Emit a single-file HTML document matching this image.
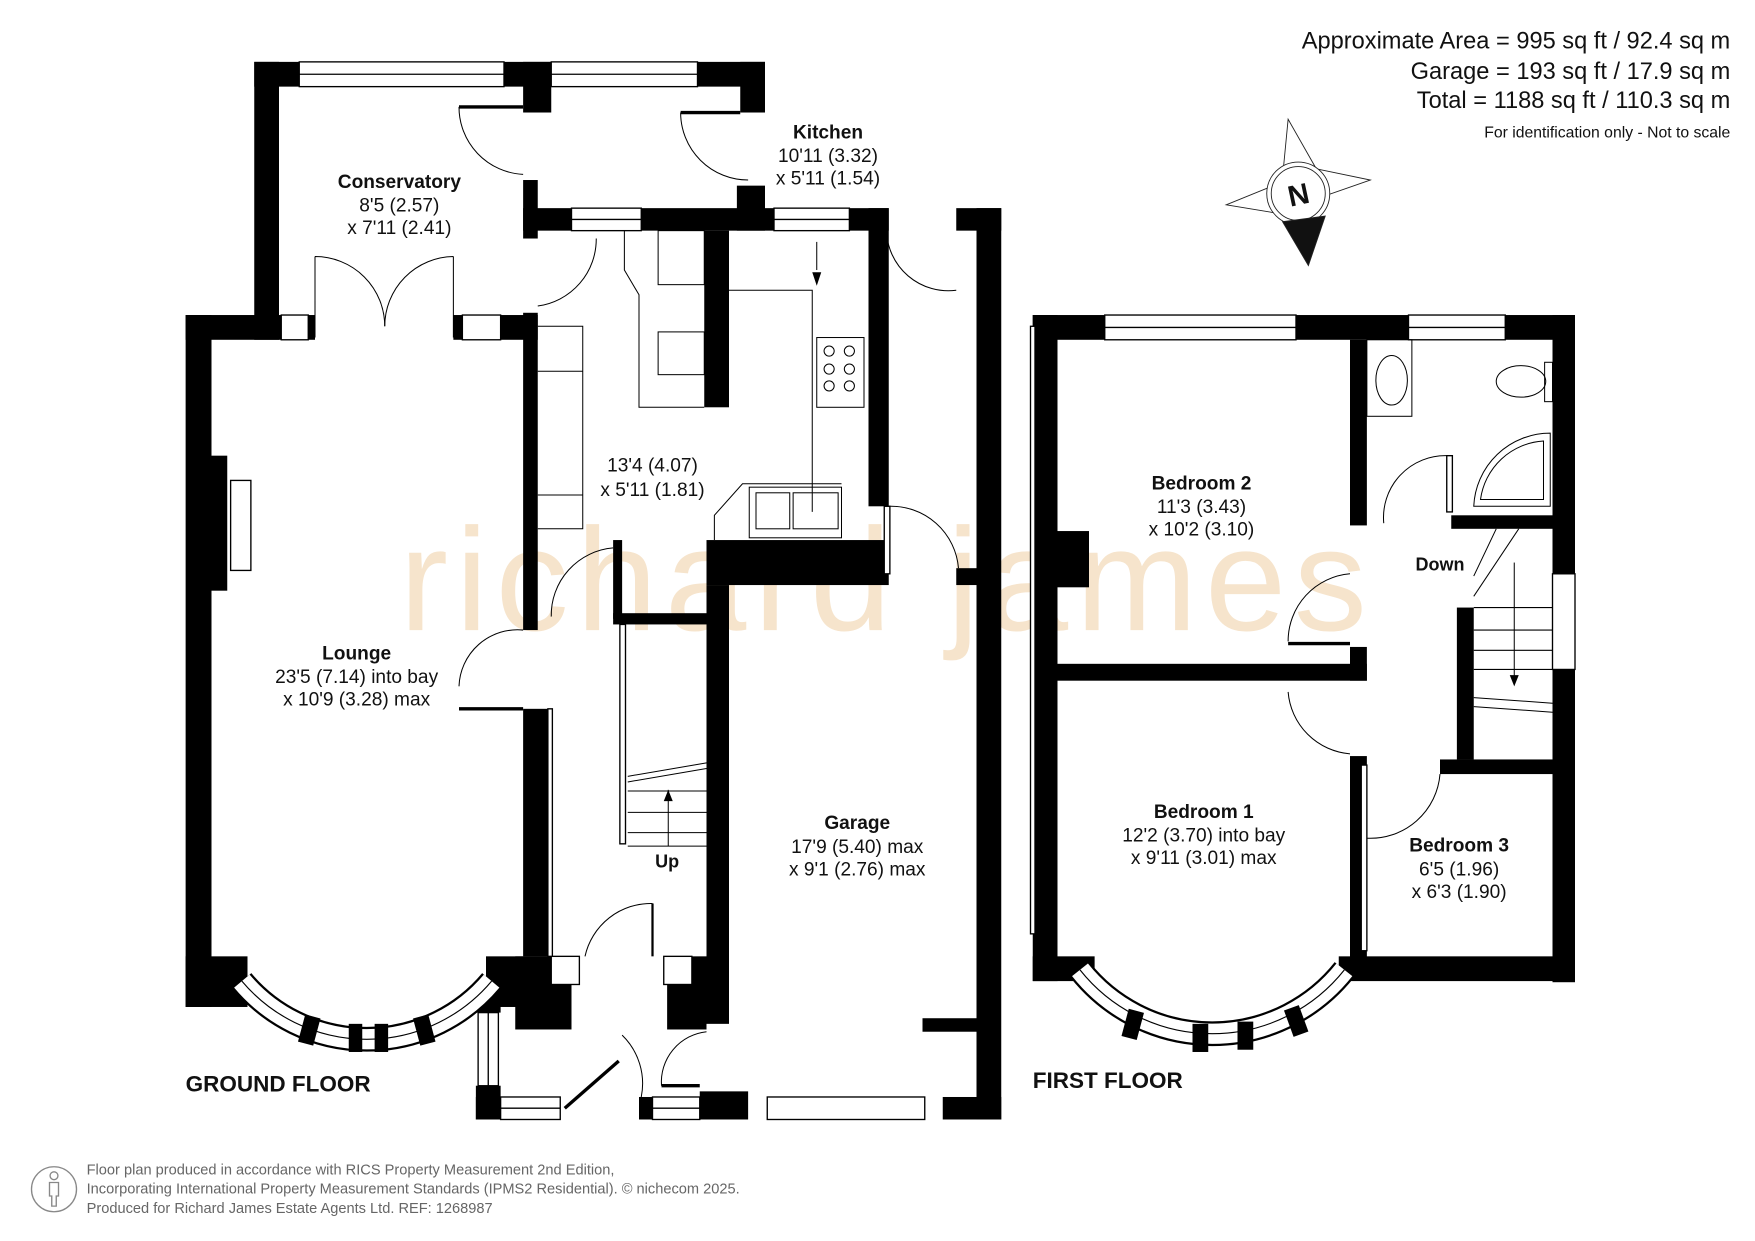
<!DOCTYPE html>
<html><head><meta charset="utf-8"><style>
html,body{margin:0;padding:0;background:#fff;}
svg{display:block;}
text{font-family:"Liberation Sans",Arial,sans-serif;fill:#111;}
.b{font-weight:bold;}
</style></head><body>
<svg width="1755" height="1241" viewBox="0 0 1560 1103" preserveAspectRatio="none" xmlns="http://www.w3.org/2000/svg">
<rect width="1560" height="1103" fill="#fff"/>
<!-- watermark -->
<text x="355" y="560" font-size="130" style="fill:#f6e4cc" textLength="860">richard james</text>

<!-- header -->
<g font-size="21" text-anchor="end">
<text x="1538" y="43">Approximate Area = 995 sq ft / 92.4 sq m</text>
<text x="1538" y="70">Garage = 193 sq ft / 17.9 sq m</text>
<text x="1538" y="96">Total = 1188 sq ft / 110.3 sq m</text>
<text x="1538" y="122" font-size="14">For identification only - Not to scale</text>
</g>
<!-- compass -->
<g stroke="#222" stroke-width="0.8" fill="#fff">
<polygon points="1145,106 1170,150 1140,158"/>
<polygon points="1218,160 1175,175 1170,150"/>
<polygon points="1090,182 1132,165 1138,190"/>
<circle cx="1154" cy="172" r="28"/>
<circle cx="1154" cy="172" r="24"/>
<polygon points="1140,197 1178,192 1163,236" fill="#111"/>
</g>
<text x="1154" y="182" font-size="26" class="b" text-anchor="middle" transform="rotate(-12 1154 172)">N</text>

<g fill="#000">
<!-- ===== GROUND FLOOR ===== -->
<rect x="165" y="280" width="23" height="615"/>
<rect x="165" y="280" width="85" height="22"/>
<rect x="274" y="280" width="6" height="22"/>
<rect x="403" y="280" width="8" height="22"/>
<rect x="445" y="280" width="33" height="22"/>
<rect x="165" y="850" width="55" height="45"/>
<rect x="432" y="850" width="58" height="45"/>
<rect x="188" y="405" width="14" height="120"/>
<rect x="226" y="55" width="22" height="247"/>
<rect x="226" y="55" width="40" height="22"/>
<rect x="448" y="55" width="42" height="22"/>
<rect x="465" y="55" width="25" height="45"/>
<rect x="620" y="55" width="60" height="22"/>
<rect x="658" y="55" width="22" height="45"/>
<rect x="465" y="160" width="13" height="52"/>
<rect x="655" y="165" width="25" height="40"/>
<rect x="465" y="185" width="43" height="20"/>
<rect x="570" y="185" width="118" height="20"/>
<rect x="755" y="185" width="35" height="20"/>
<rect x="772" y="185" width="18" height="265"/>
<rect x="626" y="205" width="22" height="157"/>
<rect x="628" y="480" width="162" height="40"/>
<rect x="465" y="278" width="13" height="282"/>
<rect x="545" y="480" width="8" height="70"/>
<rect x="545" y="545" width="85" height="10"/>
<rect x="465" y="630" width="25" height="220"/>
<rect x="628" y="520" width="20" height="390"/>
<rect x="458" y="850" width="32" height="25"/>
<rect x="458" y="870" width="50" height="45"/>
<rect x="593" y="870" width="35" height="45"/>
<rect x="615" y="850" width="15" height="25"/>
<rect x="423" y="875" width="22" height="25"/>
<rect x="423" y="965" width="22" height="30"/>
<rect x="423" y="975" width="75" height="20"/>
<rect x="568" y="975" width="12" height="20"/>
<rect x="622" y="970" width="43" height="25"/>
<rect x="850" y="185" width="40" height="20"/>
<rect x="868" y="185" width="22" height="810"/>
<rect x="850" y="505" width="20" height="15"/>
<rect x="820" y="905" width="50" height="12"/>
<rect x="838" y="975" width="52" height="20"/>

<!-- ===== FIRST FLOOR ===== -->
<rect x="918" y="280" width="22" height="592"/>
<rect x="918" y="280" width="64" height="22"/>
<rect x="1152" y="280" width="100" height="22"/>
<rect x="1338" y="280" width="62" height="22"/>
<rect x="1380" y="280" width="20" height="230"/>
<rect x="1380" y="595" width="20" height="278"/>
<rect x="940" y="472" width="28" height="50"/>
<rect x="940" y="590" width="275" height="15"/>
<rect x="1200" y="302" width="15" height="165"/>
<rect x="1200" y="575" width="15" height="30"/>
<rect x="1290" y="458" width="90" height="12"/>
<rect x="1295" y="540" width="15" height="135"/>
<rect x="1280" y="675" width="100" height="13"/>
<rect x="1200" y="672" width="15" height="180"/>
<rect x="1190" y="850" width="210" height="22"/>
<rect x="918" y="850" width="55" height="22"/>
</g>

<g fill="#fff" stroke="#000" stroke-width="1.2">
<rect x="266" y="55" width="182" height="22"/><line x1="266" y1="66" x2="448" y2="66"/>
<rect x="490" y="55" width="130" height="22"/><line x1="490" y1="66" x2="620" y2="66"/>
<rect x="508" y="185" width="62" height="20"/><line x1="508" y1="195" x2="570" y2="195"/>
<rect x="688" y="185" width="67" height="20"/><line x1="688" y1="195" x2="755" y2="195"/>
<rect x="250" y="280" width="24" height="22"/><rect x="411" y="280" width="34" height="22"/>
<rect x="982" y="280" width="170" height="22"/><line x1="982" y1="291" x2="1152" y2="291"/>
<rect x="1252" y="280" width="86" height="22"/><line x1="1252" y1="291" x2="1338" y2="291"/>
<rect x="1380" y="510" width="20" height="85"/>
<rect x="445" y="975" width="53" height="20"/><line x1="445" y1="985" x2="498" y2="985"/>
<rect x="580" y="975" width="42" height="20"/><line x1="580" y1="985" x2="622" y2="985"/>
<rect x="682" y="975" width="140" height="20"/>
<rect x="425" y="900" width="18" height="65"/><line x1="434" y1="900" x2="434" y2="965"/>
<rect x="490" y="850" width="25" height="25"/><rect x="590" y="850" width="25" height="25"/>
<rect x="205" y="427" width="18" height="80"/>
<rect x="487" y="630" width="4" height="220"/>
<rect x="551" y="555" width="5" height="195"/>
<rect x="916" y="290" width="4" height="540"/>
<rect x="786" y="450" width="5" height="60"/>
<rect x="1286" y="405" width="5" height="50"/>
<rect x="1210" y="680" width="5" height="165"/>
</g>
<!-- bays -->
<g fill="none" stroke="#000">
<path d="M215,872 A145,145 0 0 0 437,872" stroke-width="22"/>
<path d="M215,872 A145,145 0 0 0 437,872" stroke="#fff" stroke-width="18"/>
<path d="M215,872 A145,145 0 0 0 437,872" stroke-width="1"/>
<path d="M960,862 A150,150 0 0 0 1195,862" stroke-width="22"/>
<path d="M960,862 A150,150 0 0 0 1195,862" stroke="#fff" stroke-width="18"/>
<path d="M960,862 A150,150 0 0 0 1195,862" stroke-width="1"/>
</g>
<g fill="#000">
<rect x="268" y="903" width="14" height="25" transform="rotate(15 275 915)"/>
<rect x="310" y="910" width="12" height="25"/><rect x="333" y="910" width="12" height="25"/>
<rect x="370" y="903" width="14" height="25" transform="rotate(-15 377 915)"/>
<rect x="1000" y="898" width="14" height="25" transform="rotate(15 1007 910)"/>
<rect x="1060" y="910" width="14" height="25"/><rect x="1100" y="908" width="14" height="25"/>
<rect x="1145" y="895" width="14" height="25" transform="rotate(-20 1152 907)"/>
</g>

<g fill="none" stroke="#000" stroke-width="0.9">
<path d="M408,95 A60,60 0 0 0 465,155"/><line x1="408" y1="95" x2="465" y2="95" stroke-width="3"/>
<path d="M605,100 A60,60 0 0 0 665,160"/><line x1="605" y1="100" x2="658" y2="100" stroke-width="3"/>
<path d="M280,228 L280,300 M280,228 A62,62 0 0 1 342,290"/>
<path d="M403,228 L403,300 M403,228 A62,62 0 0 0 342,290"/>
<path d="M530,212 A60,60 0 0 1 478,272"/>
<path d="M788,205 A55,55 0 0 0 850,258"/>
<path d="M790,450 A60,60 0 0 1 852,505"/>
<path d="M408,610 A52,52 0 0 1 465,560"/><line x1="408" y1="630" x2="465" y2="630" stroke-width="3"/>
<path d="M490,548 A60,60 0 0 1 545,487"/>
<path d="M520,850 A60,60 0 0 1 580,803"/><line x1="580" y1="803" x2="580" y2="850" stroke-width="2"/>
<path d="M553,920 A60,60 0 0 1 570,975"/><line x1="502" y1="985" x2="550" y2="943" stroke-width="3"/>
<path d="M588,965 A45,45 0 0 1 628,917"/><line x1="588" y1="965" x2="622" y2="965" stroke-width="3"/>
<path d="M1145,570 A60,60 0 0 1 1200,510"/><line x1="1145" y1="572" x2="1200" y2="572" stroke-width="3"/>
<path d="M1145,615 A60,60 0 0 0 1200,670"/>
<path d="M1230,465 A55,55 0 0 1 1286,405"/>
<path d="M1215,745 A62,62 0 0 0 1280,688"/>
<polyline points="478,290 518,290 518,470 478,470"/>
<line x1="478" y1="330" x2="518" y2="330"/><line x1="478" y1="440" x2="518" y2="440"/>
<polyline points="555,205 555,240 568,262 568,362 626,362"/>
<rect x="585" y="205" width="41" height="48"/><rect x="585" y="295" width="41" height="38"/>
<polyline points="648,258 722,258 722,455"/>
<polyline points="635,480 635,458 660,430 748,430"/>
<rect x="726" y="300" width="42" height="62"/>
<rect x="666" y="433" width="82" height="45"/>
<line x1="726" y1="215" x2="726" y2="240"/>
<line x1="558" y1="690" x2="628" y2="678"/><line x1="558" y1="695" x2="628" y2="683"/>
<line x1="558" y1="703" x2="628" y2="703"/><line x1="558" y1="722" x2="628" y2="722"/><line x1="558" y1="740" x2="628" y2="740"/><line x1="558" y1="752" x2="628" y2="752"/>
<line x1="594" y1="752" x2="594" y2="702"/>
<line x1="1310" y1="530" x2="1350" y2="470"/><line x1="1310" y1="512" x2="1330" y2="470"/>
<line x1="1310" y1="540" x2="1380" y2="540"/><line x1="1310" y1="560" x2="1380" y2="560"/><line x1="1310" y1="578" x2="1380" y2="578"/><line x1="1310" y1="595" x2="1380" y2="595"/>
<line x1="1310" y1="620" x2="1380" y2="625"/><line x1="1310" y1="628" x2="1380" y2="633"/>
<line x1="1346" y1="500" x2="1346" y2="605"/>
<rect x="1215" y="302" width="40" height="68"/>
<ellipse cx="1237" cy="338" rx="14" ry="22"/>
<ellipse cx="1352" cy="339" rx="22" ry="14"/><rect x="1373" y="322" width="7" height="35"/>
<path d="M1378,385 L1378,450 L1310,450 A68,68 0 0 1 1378,385 Z"/>
<path d="M1372,392 L1372,444 L1316,444 A60,60 0 0 1 1372,392 Z"/>
</g>
<g fill="#000">
<polygon points="722,242 730,242 726,254"/>
<polygon points="590,712 598,712 594,702"/>
<polygon points="1342,600 1350,600 1346,610"/>
</g>
<g fill="none" stroke="#000" stroke-width="0.9">
<circle cx="737" cy="312" r="4.5"/><circle cx="755" cy="312" r="4.5"/>
<circle cx="737" cy="328" r="4.5"/><circle cx="755" cy="328" r="4.5"/>
<circle cx="737" cy="343" r="4.5"/><circle cx="755" cy="343" r="4.5"/>
<rect x="672" y="438" width="30" height="32"/><rect x="705" y="438" width="40" height="32"/>
</g>

<g font-size="17" text-anchor="middle">
<text x="355" y="167" class="b">Conservatory</text><text x="355" y="188">8'5 (2.57)</text><text x="355" y="208">x 7'11 (2.41)</text>
<text x="736" y="123" class="b">Kitchen</text><text x="736" y="144">10'11 (3.32)</text><text x="736" y="164">x 5'11 (1.54)</text>
<text x="580" y="419">13'4 (4.07)</text><text x="580" y="441">x 5'11 (1.81)</text>
<text x="317" y="586" class="b">Lounge</text><text x="317" y="607">23'5 (7.14) into bay</text><text x="317" y="627">x 10'9 (3.28) max</text>
<text x="593" y="771" class="b" font-size="16">Up</text>
<text x="762" y="737" class="b">Garage</text><text x="762" y="758">17'9 (5.40) max</text><text x="762" y="778">x 9'1 (2.76) max</text>
<text x="1068" y="435" class="b">Bedroom 2</text><text x="1068" y="456">11'3 (3.43)</text><text x="1068" y="476">x 10'2 (3.10)</text>
<text x="1280" y="507" class="b" font-size="16">Down</text>
<text x="1070" y="727" class="b">Bedroom 1</text><text x="1070" y="748">12'2 (3.70) into bay</text><text x="1070" y="768">x 9'11 (3.01) max</text>
<text x="1297" y="757" class="b">Bedroom 3</text><text x="1297" y="778">6'5 (1.96)</text><text x="1297" y="798">x 6'3 (1.90)</text>
</g>
<text x="165" y="970" font-size="20" class="b">GROUND FLOOR</text>
<text x="918" y="967" font-size="20" class="b">FIRST FLOOR</text>

<g fill="none" stroke="#888" stroke-width="1.2">
<circle cx="48" cy="1057" r="20"/>
<circle cx="48" cy="1045" r="3.5"/>
<path d="M44,1051 L52,1051 L52,1063 L50,1063 L50,1072 L46,1072 L46,1063 L44,1063 Z"/>
</g>
<g font-size="13">
<text x="77" y="1044" style="fill:#666">Floor plan produced in accordance with RICS Property Measurement 2nd Edition,</text>
<text x="77" y="1061" style="fill:#666">Incorporating International Property Measurement Standards (IPMS2 Residential).   © nichecom 2025.</text>
<text x="77" y="1078" style="fill:#666">Produced for Richard James Estate Agents Ltd.   REF: 1268987</text>
</g>
</svg>
</body></html>
